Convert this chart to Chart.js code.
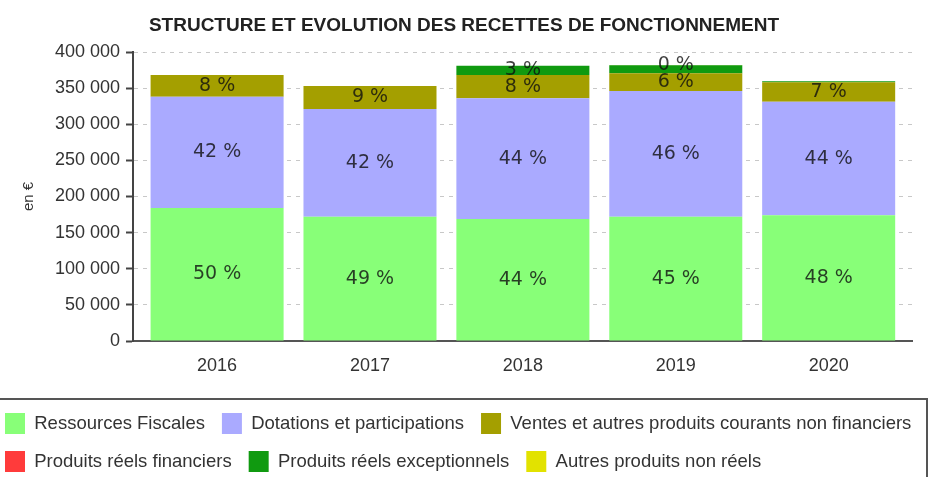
<!DOCTYPE html>
<html lang="fr">
<head>
<meta charset="utf-8">
<title>Structure et évolution des recettes de fonctionnement</title>
<script src="https://cdn.jsdelivr.net/npm/chart.js@4.4.1/dist/chart.umd.min.js"></script>
<style>
  html, body { margin: 0; padding: 0; background: #fff; overflow: hidden; }
  #wrap { position: relative; width: 940px; height: 477px; overflow: hidden; }
  #myChart { position: absolute; left: -12px; top: 0; }
</style>
</head>
<body>
<div id="wrap"><canvas id="myChart" width="952" height="482"></canvas></div>
<script>
// values in euros
const years = ['2016', '2017', '2018', '2019', '2020'];
const ressourcesFiscales = [184000, 172000, 169000, 172000, 174000];
const dotations = [154000, 149000, 167000, 174000, 157000];
const ventes = [30000, 32000, 32000, 24500, 27000];
const financiers = [0, 0, 0, 0, 0];
const exceptionnels = [0, 0, 13000, 11000, 1500];
const autres = [0, 0, 0, 500, 0];

// percentage labels as printed on the bars ('' = no label)
const labelsFiscales = ['50 %', '49 %', '44 %', '45 %', '48 %'];
const labelsDotations = ['42 %', '42 %', '44 %', '46 %', '44 %'];
const labelsVentes = ['8 %', '9 %', '8 %', '6 %', '7 %'];
const labelsFinanciers = ['', '', '', '', ''];
const labelsExceptionnels = ['', '', '3 %', '', ''];
const labelsAutres = ['', '', '', '0 %', ''];

const yTitle = 'en €';
const chartTitle = 'STRUCTURE ET EVOLUTION DES RECETTES DE FONCTIONNEMENT';

Chart.defaults.font.family = "'Liberation Sans', Arial, sans-serif";
Chart.defaults.color = '#333';

function formatEuros(v) {
    return String(v).replace(/\B(?=(\d{3})+(?!\d))/g, ' ');
}

// writes the percentage in the middle of each segment
const segmentLabels = {
    id: 'segmentLabels',
    afterDatasetsDraw(chart) {
        const ctx = chart.ctx;
        ctx.save();
        ctx.font = '19px "DejaVu Sans", sans-serif';
        ctx.fillStyle = 'rgba(15, 15, 15, 0.8)';
        ctx.textAlign = 'center';
        ctx.textBaseline = 'middle';
        chart.data.datasets.forEach((ds, i) => {
            const meta = chart.getDatasetMeta(i);
            meta.data.forEach((bar, j) => {
                const txt = ds.pctLabels[j];
                if (!txt) return;
                ctx.fillText(txt, bar.x, (bar.y + bar.base) / 2);
            });
        });
        ctx.restore();
    }
};

// frame around the legend
const legendFrame = {
    id: 'legendFrame',
    afterDraw(chart) {
        const lg = chart.legend;
        const ctx = chart.ctx;
        ctx.save();
        ctx.strokeStyle = '#555';
        ctx.lineWidth = 2;
        ctx.strokeRect(-10, lg.top + 3, 949, 200);
        ctx.restore();
    }
};

const ctx = document.getElementById('myChart').getContext('2d');
const myChart = new Chart(ctx, {
    type: 'bar',
    data: {
        labels: years,
        datasets: [
            { label: 'Ressources Fiscales', data: ressourcesFiscales, backgroundColor: '#88ff78', pctLabels: labelsFiscales },
            { label: 'Dotations et participations', data: dotations, backgroundColor: '#aaaaff', pctLabels: labelsDotations },
            { label: 'Ventes et autres produits courants non financiers', data: ventes, backgroundColor: '#a49f00', pctLabels: labelsVentes },
            { label: 'Produits réels financiers', data: financiers, backgroundColor: '#ff3b3b', pctLabels: labelsFinanciers },
            { label: 'Produits réels exceptionnels', data: exceptionnels, backgroundColor: '#109a10', pctLabels: labelsExceptionnels },
            { label: 'Autres produits non réels', data: autres, backgroundColor: '#e2e200', pctLabels: labelsAutres }
        ]
    },
    options: {
        responsive: false,
        animation: false,
        devicePixelRatio: 1,
        datasets: {
            bar: { barPercentage: 0.87, categoryPercentage: 1, borderWidth: 0 }
        },
        scales: {
            x: {
                type: 'linear',
                stacked: true,
                offset: false,
                min: 2015.45,
                max: 2020.545,
                afterBuildTicks: s => { s.ticks = years.map(y => ({ value: Number(y) })); },
                afterFit: s => { s.height = 55; },
                grid: { display: false, drawTicks: false },
                border: { display: true, color: '#555', width: 2 },
                ticks: {
                    padding: 14,
                    color: '#333',
                    font: { size: 18 },
                    maxRotation: 0,
                    autoSkip: false,
                    callback: v => String(v)
                }
            },
            y: {
                stacked: true,
                min: 0,
                max: 400000,
                afterFit: s => { s.width = 145; },
                grid: { color: '#c8c8c8', lineWidth: 1, tickLength: 7, tickColor: '#444', tickWidth: 2 },
                border: { color: '#444', width: 2, dash: [4, 5] },
                ticks: {
                    stepSize: 50000,
                    padding: 6,
                    color: '#333',
                    font: { size: 18 },
                    callback: v => formatEuros(v)
                },
                title: {
                    display: true,
                    text: yTitle,
                    color: '#333',
                    font: { size: 15 },
                    padding: { top: 32, bottom: 0 }
                }
            },
            // empty right-hand margin so the title stays centred on the page
            yRight: {
                position: 'right',
                display: true,
                grid: { display: false, drawTicks: false },
                border: { display: false },
                ticks: { display: false },
                afterFit: s => { s.width = 28; }
            }
        },
        plugins: {
            title: {
                display: true,
                text: chartTitle,
                color: '#222',
                font: { size: 19, weight: 'bold' },
                padding: { top: 14, bottom: 15.2 }
            },
            legend: {
                position: 'bottom',
                align: 'start',
                labels: {
                    boxWidth: 20,
                    boxHeight: 21,
                    padding: 17,
                    color: '#333',
                    font: { size: 18.5 }
                }
            },
            tooltip: { enabled: false }
        }
    },
    plugins: [segmentLabels, legendFrame]
});
</script>
</body>
</html>
